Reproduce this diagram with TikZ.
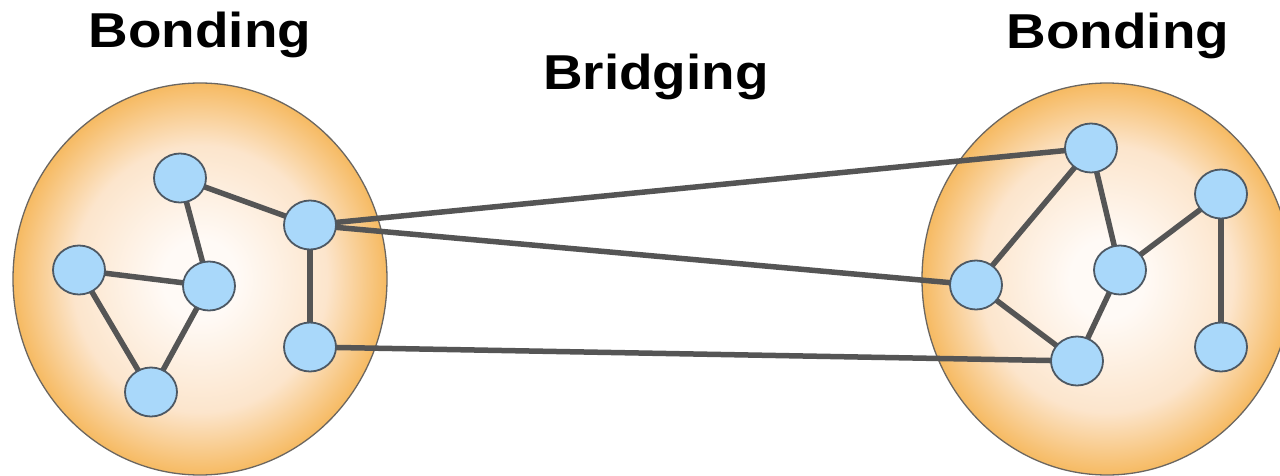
\documentclass[tikz,border=0pt]{standalone}
\usepackage{fontspec}
\setmainfont{Liberation Sans}
\usetikzlibrary{shapes.geometric}
\definecolor{edgecol}{HTML}{555555}
\definecolor{nodeline}{HTML}{4D5863}
\definecolor{nodefill}{HTML}{A9D8FA}
\definecolor{ringline}{HTML}{6B6660}
\definecolor{orcenter}{HTML}{FFFAF6}
\definecolor{ormid}{HTML}{FCE5CC}
\definecolor{oredge}{HTML}{F6BA62}
\pgfdeclareradialshading{bondshade}{\pgfpoint{0bp}{0bp}}{color(0bp)=(orcenter); color(5bp)=(orcenter); color(17bp)=(ormid); color(25bp)=(oredge); color(50bp)=(oredge)}
\pgfdeclarelayer{bg}
\pgfdeclarelayer{edges}
\pgfsetlayers{bg,edges,main}
\tikzset{
  group/.style={ellipse, draw=ringline, line width=1.3pt, shading=bondshade, inner sep=0pt},
  member/.style={ellipse, draw=nodeline, line width=1.8pt, fill=nodefill, minimum width=52pt, minimum height=49pt, inner sep=0pt},
  tie/.style={draw=edgecol, line width=5.5pt},
  title/.style={font=\bfseries\fontsize{49}{55}\selectfont, anchor=base, inner sep=0pt}
}
\begin{document}
\begin{tikzpicture}[x=1pt,y=-1pt]
\useasboundingbox (0,0) rectangle (1280,476);
\begin{pgfonlayer}{bg}
\fill[white] (0,0) rectangle (1280,476);
\node[group, minimum width=374pt, minimum height=392pt] (GL) at (200,279) {};
\node[group, minimum width=370pt, minimum height=392pt] (GR) at (1107,279) {};
\end{pgfonlayer}
% left group members
\node[member] (a1) at (180,178) {};
\node[member] (a2) at (310,225) {};
\node[member] (a3) at (79,270) {};
\node[member] (a4) at (209,286) {};
\node[member] (a5) at (310,347) {};
\node[member] (a6) at (151,392) {};
% right group members
\node[member] (b1) at (1091,148) {};
\node[member] (b2) at (1221,194) {};
\node[member] (b3) at (1120,270) {};
\node[member] (b4) at (976,285) {};
\node[member] (b5) at (1221,347) {};
\node[member] (b6) at (1077,361) {};
\begin{pgfonlayer}{edges}
\draw[tie] (a1.center) -- (a2.center);
\draw[tie] (a1.center) -- (a4.center);
\draw[tie] (a3.center) -- (a4.center);
\draw[tie] (a3.center) -- (a6.center);
\draw[tie] (a4.center) -- (a6.center);
\draw[tie] (a2.center) -- (a5.center);
\draw[tie] (b1.center) -- (b4.center);
\draw[tie] (b1.center) -- (b3.center);
\draw[tie] (b3.center) -- (b2.center);
\draw[tie] (b2.center) -- (b5.center);
\draw[tie] (b4.center) -- (b6.center);
\draw[tie] (b3.center) -- (b6.center);
\draw[tie] (a2.center) -- (b1.center);
\draw[tie] (a2.center) -- (b4.center);
\draw[tie] (a5.center) -- (b6.center);
\end{pgfonlayer}
\node[title] (t1) at (200,48) {\scalebox{1.12}[1]{Bonding}};
\node[title] (t2) at (656,90) {\scalebox{1.12}[1]{Bridging}};
\node[title] (t3) at (1118,49) {\scalebox{1.12}[1]{Bonding}};
\end{tikzpicture}
\end{document}
